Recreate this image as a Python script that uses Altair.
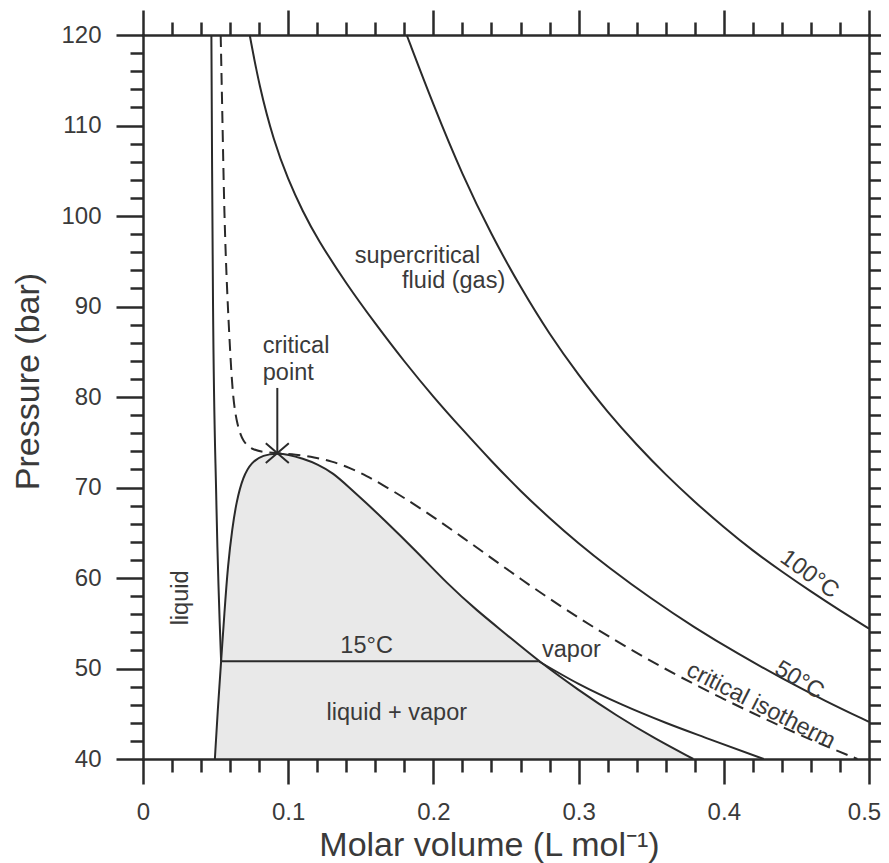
import altair as alt
import pandas as pd

# ---------------- data ----------------
# two-phase (liquid + vapor) dome
dome_v = [0.0495, 0.0515, 0.0538, 0.0560, 0.0585, 0.0615, 0.0643, 0.0689, 0.0747, 0.0827, 0.0925,
          0.1000, 0.1100, 0.1200, 0.1310, 0.1420, 0.1530, 0.1650, 0.1880, 0.2100, 0.2300, 0.2500,
          0.2725, 0.3000, 0.3260, 0.3530, 0.3790]
dome_p = [40.0, 45.5, 50.8, 56.0, 61.5, 65.5, 68.4, 71.2, 72.8, 73.6, 73.8,
          73.65, 73.2, 72.6, 71.6, 70.0, 68.4, 66.6, 63.0, 59.3, 56.4, 53.8,
          50.8, 47.6, 44.8, 42.2, 40.0]

# 15 °C isotherm: liquid branch, tie line, vapour branch
iso15_liq_v = [0.0471, 0.0476, 0.0482, 0.0505, 0.0538]
iso15_liq_p = [120.0, 105.0, 90.7, 68.6, 50.8]
iso15_tie_v = [0.0538, 0.2725]
iso15_tie_p = [50.8, 50.8]
iso15_vap_v = [0.2725, 0.3000, 0.3300, 0.3600, 0.3900, 0.4275]
iso15_vap_p = [50.8, 48.3, 46.0, 44.0, 42.2, 40.0]

# critical isotherm (dashed)
crit_v = [0.0535, 0.0548, 0.0560, 0.0578, 0.0600, 0.0620, 0.0650, 0.0690, 0.0750, 0.0830, 0.0925,
          0.1050, 0.1180, 0.1300, 0.1420, 0.1540, 0.1660, 0.1800, 0.2000, 0.2200, 0.2400, 0.2600,
          0.2800, 0.3000, 0.3200, 0.3450, 0.3700, 0.4000, 0.4300, 0.4600, 0.4920]
crit_p = [120.0, 110.0, 100.0, 92.0, 85.0, 79.7, 76.8, 75.0, 74.2, 73.9, 73.8,
          73.65, 73.35, 72.9, 72.2, 71.3, 70.2, 68.85, 66.75, 64.5, 62.2, 59.9,
          57.7, 55.6, 53.6, 51.25, 49.05, 46.6, 44.3, 42.1, 40.0]

# 50 °C isotherm
iso50_v = [0.0735, 0.0800, 0.0900, 0.1000, 0.1100, 0.1200, 0.1400, 0.1600, 0.1800, 0.2000,
           0.2200, 0.2400, 0.2600, 0.2800, 0.3000, 0.3200, 0.3500, 0.3800, 0.4100, 0.4400,
           0.4700, 0.5000]
iso50_p = [120.0, 114.4, 108.3, 104.0, 100.5, 97.5, 92.5, 88.1, 83.9, 80.0,
           76.4, 72.9, 69.6, 66.6, 63.8, 61.25, 57.7, 54.5, 51.6, 48.9,
           46.4, 44.1]

# 100 °C isotherm
iso100_v = [0.1816, 0.2000, 0.2200, 0.2400, 0.2600, 0.2800, 0.3000, 0.3200, 0.3400, 0.3600,
            0.3800, 0.4000, 0.4200, 0.4400, 0.4600, 0.4800, 0.5000]
iso100_p = [120.0, 112.25, 104.5, 97.9, 92.1, 86.9, 82.4, 78.3, 74.7, 71.4,
            68.4, 65.6, 63.0, 60.7, 58.5, 56.4, 54.4]

# critical point and its pointer
cp_v = [0.0925]
cp_p = [73.8]
pointer_top_p = [81.0]

# text annotations
label_text = ["liquid", "liquid + vapor", "15°C", "vapor", "critical", "point",
              "supercritical", "fluid (gas)", "100°C", "50°C", "critical isotherm"]
label_v = [0.026, 0.1748, 0.154, 0.2748, 0.0825, 0.0825, 0.2322, 0.2495, 0.459, 0.452, 0.4255]
label_p = [57.8, 44.3, 51.7, 51.3, 84.9, 81.9, 94.8, 92.0, 60.4, 48.7, 45.9]
label_angle = [270, 0, 0, 0, 0, 0, 0, 0, 36, 31, 27]
label_align = ["center", "center", "center", "left", "left", "left", "right", "right",
               "center", "center", "center"]
label_baseline = ["middle", "alphabetic", "alphabetic", "alphabetic", "alphabetic", "alphabetic",
                  "alphabetic", "alphabetic", "middle", "middle", "middle"]

# axis ticks
x_major = [0, 0.1, 0.2, 0.3, 0.4, 0.5]
x_minor = [0.02, 0.04, 0.06, 0.08, 0.12, 0.14, 0.16, 0.18, 0.22, 0.24, 0.26, 0.28,
           0.32, 0.34, 0.36, 0.38, 0.42, 0.44, 0.46, 0.48]
y_major = [40, 50, 60, 70, 80, 90, 100, 110, 120]
y_minor = [42, 44, 46, 48, 52, 54, 56, 58, 62, 64, 66, 68, 72, 74, 76, 78, 82, 84, 86, 88,
           92, 94, 96, 98, 102, 104, 106, 108, 112, 114, 116, 118]

# ---------------- styling ----------------
INK = "#2a2a2a"
TXT = "#3a3a3a"
FONT = "Liberation Sans"
W, H = 726, 724

xs = alt.Scale(domain=[0, 0.5], nice=False, zero=False)
ys = alt.Scale(domain=[40, 120], nice=False, zero=False)


def curve_df(name, v, p):
    return pd.DataFrame({"v": v, "p": p, "order": list(range(len(v))), "curve": name})


dome_df = curve_df("dome", dome_v, dome_p)
dome_df["base"] = 40.0
smooth_df = pd.concat([
    curve_df("dome", dome_v, dome_p),
    curve_df("50C", iso50_v, iso50_p),
    curve_df("100C", iso100_v, iso100_p),
], ignore_index=True)
iso15_df = pd.concat([
    curve_df("15C liquid", iso15_liq_v, iso15_liq_p),
    curve_df("15C tie", iso15_tie_v, iso15_tie_p),
    curve_df("15C vapour", iso15_vap_v, iso15_vap_p),
], ignore_index=True)
crit_df = curve_df("critical", crit_v, crit_p)
cp_df = pd.DataFrame({"v": cp_v, "p": cp_p, "top": pointer_top_p})

X = lambda: alt.X("v:Q", scale=xs, axis=None)
Y = lambda: alt.Y("p:Q", scale=ys, axis=None)

area = alt.Chart(dome_df).mark_area(color="#e9e9e9", opacity=1, interpolate="basis").encode(
    x=X(), y=Y(), y2="base:Q")

smooth = alt.Chart(smooth_df).mark_line(color=INK, strokeWidth=2, interpolate="basis").encode(
    x=X(), y=Y(), detail="curve:N", order="order:Q")

iso15 = alt.Chart(iso15_df).mark_line(color=INK, strokeWidth=2, interpolate="monotone").encode(
    x=X(), y=Y(), detail="curve:N", order="order:Q")

dashed = alt.Chart(crit_df).mark_line(color=INK, strokeWidth=2, strokeDash=[12, 7],
                                      interpolate="basis").encode(
    x=X(), y=Y(), order="order:Q")

pointer = alt.Chart(cp_df).mark_rule(color=INK, strokeWidth=2).encode(
    x=X(), y=alt.Y("top:Q", scale=ys, axis=None), y2="p:Q")

marker = alt.Chart(cp_df).mark_point(
    shape="M-1,-0.85L1,0.85M-1,0.85L1,-0.85", filled=False, size=530,
    color=INK, strokeWidth=2, opacity=1).encode(x=X(), y=Y())

text_layers = []
for t, v, p, a, al, bl in zip(label_text, label_v, label_p, label_angle, label_align, label_baseline):
    df = pd.DataFrame({"v": [v], "p": [p], "t": [t]})
    text_layers.append(
        alt.Chart(df).mark_text(font=FONT, fontSize=23.5, color=TXT, angle=a, align=al, baseline=bl)
        .encode(x=X(), y=Y(), text="t:N"))

anchor_df = pd.DataFrame({"v": [0.25], "p": [80.0]})
common = dict(grid=False, tickColor=INK, tickWidth=2.5, domainColor=INK, domainWidth=2.5,
              domainCap="square", zindex=2)


def axis_layer(xaxis, yaxis):
    return alt.Chart(anchor_df).mark_point(opacity=0).encode(
        x=alt.X("v:Q", scale=xs, axis=xaxis),
        y=alt.Y("p:Q", scale=ys, axis=yaxis))


ax_main = axis_layer(
    alt.Axis(orient="bottom", values=x_major, format="~g", tickSize=25, domain=True,
             labelFont=FONT, labelFontSize=24, labelColor=TXT, labelPadding=16,
             labelFlush=False, labelOverlap=False,
             labelOffset={"condition": {"test": "datum.value >= 0.5", "value": -5}, "value": 0},
             title="Molar volume (L mol⁻¹)", titleFont=FONT, titleFontSize=34,
             titleFontWeight="normal", titleColor=TXT, titleBaseline="alphabetic",
             titleAlign="center", titleX=346, titleY=96, **common),
    alt.Axis(orient="left", values=y_major, format="d", tickSize=27, domain=True,
             labelFont=FONT, labelFontSize=24, labelColor=TXT, labelPadding=15,
             labelOverlap=False,
             title="Pressure (bar)", titleFont=FONT, titleFontSize=34,
             titleFontWeight="normal", titleColor=TXT, titleBaseline="alphabetic",
             titleAlign="center", titleAngle=270, titleX=-105, titleY=346, **common),
)
ax_minor = axis_layer(
    alt.Axis(orient="bottom", values=x_minor, tickSize=13, domain=False, labels=False,
             title="", **common),
    alt.Axis(orient="left", values=y_minor, tickSize=13, domain=False, labels=False,
             title="", **common),
)
ax_far_major = axis_layer(
    alt.Axis(orient="top", values=x_major, tickSize=25, domain=True, labels=False,
             title="", **common),
    alt.Axis(orient="right", values=y_major, tickSize=27, domain=True, labels=False,
             title="", **common),
)
ax_far_minor = axis_layer(
    alt.Axis(orient="top", values=x_minor, tickSize=13, domain=False, labels=False,
             title="", **common),
    alt.Axis(orient="right", values=y_minor, tickSize=13, domain=False, labels=False,
             title="", **common),
)

chart = alt.layer(
    area, smooth, iso15, dashed, pointer, marker, *text_layers,
    ax_main, ax_minor, ax_far_major, ax_far_minor,
).resolve_axis(x="independent", y="independent").properties(
    width=W, height=H,
    autosize=alt.AutoSizeParams(type="none"),
    padding={"left": 135, "top": 27, "right": 12, "bottom": 104},
).configure_view(strokeWidth=0)

chart.save("out.html", embed_options={"renderer": "svg", "actions": False})
